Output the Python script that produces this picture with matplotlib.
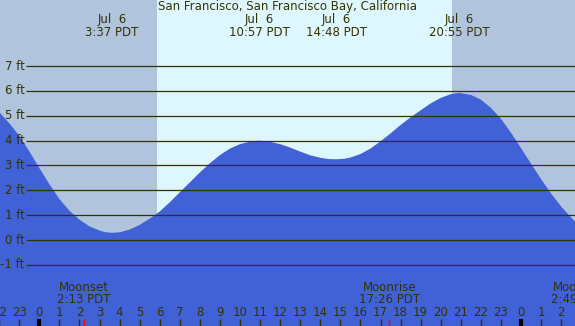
import matplotlib
matplotlib.use("Agg")
import matplotlib.pyplot as plt

# Tide heights (ft), hours relative to midnight Jul 6
hours = [-2, -1.5, -1, -0.5, 0, 0.5, 1, 1.5, 2, 2.5, 3, 3.25, 3.62, 4, 4.5, 5,
         5.5, 6, 6.5, 7, 7.5, 8, 8.5, 9, 9.5, 10, 10.5, 10.95, 11.5, 12, 12.5,
         13, 13.5, 14, 14.4, 14.8, 15.2, 15.5, 16, 16.5, 17, 17.5, 18, 18.5, 19,
         19.5, 20, 20.5, 20.92, 21.5, 22, 22.5, 23, 23.5, 24, 24.5, 25, 25.5,
         26, 26.5, 27]
heights = [5.15, 4.7, 4.2, 3.57, 2.9, 2.25, 1.65, 1.18, 0.82, 0.55, 0.38, 0.32,
           0.29, 0.31, 0.42, 0.61, 0.86, 1.15, 1.52, 1.92, 2.32, 2.72, 3.09,
           3.42, 3.68, 3.86, 3.96, 4.0, 3.95, 3.86, 3.72, 3.56, 3.41, 3.31, 3.26,
           3.25, 3.27, 3.32, 3.46, 3.68, 3.97, 4.29, 4.63, 4.94, 5.22, 5.5, 5.72,
           5.87, 5.92, 5.84, 5.65, 5.32, 4.88, 4.32, 3.7, 3.07, 2.45, 1.87, 1.35,
           0.9, 0.5]

# high / low tide events
ext_times = [3 + 37/60, 10 + 57/60, 14 + 48/60, 20 + 55/60]
ext_labels = ["3:37 PDT", "10:57 PDT", "14:48 PDT", "20:55 PDT"]

# moon events
moon_times = [2 + 13/60, 17 + 26/60, 24 + 2 + 49/60]
moon_names = ["Moonset", "Moonrise", "Moonset"]
moon_labels = ["2:13 PDT", "17:26 PDT", "2:49 PDT"]

sunrise = 5 + 52/60
sunset = 20 + 35/60

grid_ft = [-1, 0, 1, 2, 3, 4, 5, 6, 7]
hour_ticks = list(range(-2, 27))

night = "#B0C4DE"
day = "#DEF7FE"
water = "#4161D6"
ink = "#333300"

x0, x1 = -1.96, 26.69
y0, y1 = -3.46, 9.66
fs = 8.5

fig = plt.figure(figsize=(5.75, 3.26), dpi=100)
ax = fig.add_axes([0, 0, 1, 1])
ax.set_xlim(x0, x1)
ax.set_ylim(y0, y1)
ax.axis("off")

ax.axvspan(x0, sunrise, color=night, lw=0)
ax.axvspan(sunrise, sunset, color=day, lw=0)
ax.axvspan(sunset, x1, color=night, lw=0)

ax.fill_between(hours, heights, y0 - 5, color=water, lw=0, zorder=2)

# horizontal grid lines with ft labels
for g in grid_ft:
    ax.hlines(g, -0.66, x1, color=ink, lw=0.9, zorder=3, snap=True)
    ax.text(-0.74, g, "%d ft" % g, ha="right", va="center", fontsize=fs,
            color=ink, zorder=4)

ax.text(12.37, 9.38, "San Francisco, San Francisco Bay, California",
        ha="center", va="center", fontsize=fs, color=ink)

for t, lab in zip(ext_times, ext_labels):
    ax.text(t, 8.86, "Jul  6", ha="center", va="center", fontsize=fs, color=ink)
    ax.text(t, 8.37, lab, ha="center", va="center", fontsize=fs, color=ink)

for t, name, lab in zip(moon_times, moon_names, moon_labels):
    ax.text(t, -1.9, name, ha="center", va="center", fontsize=fs, color=ink)
    ax.text(t, -2.4, lab, ha="center", va="center", fontsize=fs, color=ink)
    ax.vlines(t, y0, -3.18, color="red", lw=1, zorder=4)

# hour axis along the bottom
for h in hour_ticks:
    ax.text(h, -2.9, str(h % 24), ha="center", va="center", fontsize=fs, color=ink)
    if h % 24 == 0:
        ax.vlines(h, y0, -3.18, color="black", lw=3, zorder=4)
    else:
        ax.vlines(h, y0, -3.18, color=ink, lw=1, zorder=4)

fig.savefig("out.png", dpi=100)
